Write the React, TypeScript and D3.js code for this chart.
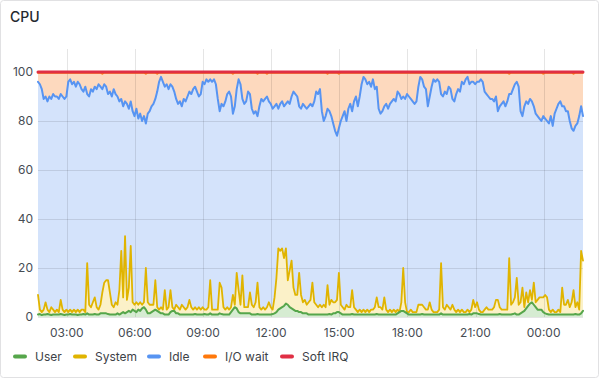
import React, { useEffect } from "react";
import * as d3 from "d3";

const seriesNames = ["User", "System", "Idle", "I/O wait", "Soft IRQ"];
const seriesColors = ["#56A64B", "#E0B400", "#5794F2", "#FF780A", "#E02F44"];
const fillColors = ["#d6ecd2", "#fbf1c8", "#d4e3fb", "#fdd9be"];
const yTicks = [0, 20, 40, 60, 80, 100];
const startTime = "2024-01-01T01:44:00Z";
const endTime = "2024-01-02T01:44:00Z";
const stepMinutes = 5;

const idle = [
  96, 95, 93, 89, 90, 88, 90, 89, 91, 90,
  90, 89, 91, 90, 89, 90, 96, 97, 95, 96,
  94, 96, 95, 93, 92, 94, 91, 90, 93, 92,
  94, 93, 95, 94, 93, 95, 94, 91, 92, 90,
  93, 91, 90, 88, 89, 86, 88, 87, 85, 88,
  84, 82, 85, 81, 83, 80, 82, 79, 83, 84,
  86, 87, 89, 92, 96, 98, 96, 94, 95, 93,
  95, 94, 92, 89, 87, 88, 86, 89, 88, 90,
  92, 91, 93, 94, 92, 90, 91, 96, 95, 97,
  96, 97, 96, 97, 95, 89, 84, 87, 86, 88,
  91, 92, 90, 83, 86, 93, 97, 95, 89, 87,
  88, 92, 91, 85, 83, 84, 82, 86, 89, 88,
  89, 90, 88, 87, 85, 86, 87, 85, 87, 88,
  86, 87, 88, 87, 90, 92, 91, 90, 86, 85,
  87, 86, 85, 86, 87, 86, 88, 92, 91, 93,
  84, 80, 82, 85, 84, 82, 79, 76, 74, 77,
  80, 82, 84, 80, 85, 87, 84, 88, 90, 86,
  90, 95, 98, 97, 95, 96, 94, 97, 93, 94,
  85, 83, 84, 86, 87, 85, 87, 88, 89, 88,
  92, 91, 89, 90, 89, 91, 90, 89, 88, 87,
  88, 94, 98, 97, 94, 93, 86, 90, 94, 97,
  96, 97, 96, 91, 90, 92, 91, 94, 93, 89,
  88, 91, 93, 92, 96, 95, 97, 98, 95, 96,
  96, 95, 96, 96, 97, 96, 92, 91, 90, 89,
  89, 88, 90, 84, 86, 87, 88, 86, 88, 91,
  91, 93, 95, 96, 94, 84, 82, 86, 88, 87,
  89, 88, 86, 83, 82, 81, 80, 82, 81, 80,
  79, 82, 78, 83, 85, 87, 88, 86, 86, 84,
  84, 80, 77, 76, 78, 79, 82, 86, 82,
];

const system = [
  9, 3, 2, 3, 6, 3, 2, 4, 3, 2,
  3, 2, 7, 3, 2, 3, 2, 3, 2, 3,
  2, 3, 2, 3, 3, 2, 22, 5, 4, 6,
  8, 4, 3, 5, 10, 14, 15, 15, 10, 5,
  4, 6, 5, 11, 27, 8, 33, 7, 12, 29,
  6, 5, 6, 5, 6, 5, 6, 20, 6, 5,
  5, 5, 15, 4, 3, 4, 3, 11, 3, 4,
  11, 4, 3, 5, 4, 3, 5, 4, 3, 4,
  7, 4, 3, 4, 3, 4, 3, 4, 3, 3,
  4, 15, 3, 3, 3, 3, 14, 12, 4, 3,
  4, 3, 4, 9, 5, 18, 11, 5, 17, 4,
  4, 4, 10, 5, 4, 6, 14, 4, 3, 4,
  3, 4, 6, 4, 3, 8, 16, 28, 27, 28,
  24, 28, 15, 19, 23, 12, 9, 9, 18, 9,
  6, 7, 5, 6, 7, 14, 6, 5, 4, 5,
  4, 5, 4, 13, 5, 7, 6, 6, 7, 18,
  5, 4, 3, 5, 4, 4, 11, 4, 3, 2,
  3, 2, 3, 2, 3, 2, 3, 3, 4, 8,
  4, 4, 3, 8, 3, 2, 3, 2, 3, 2,
  3, 2, 6, 20, 6, 2, 2, 3, 2, 2,
  2, 5, 5, 5, 4, 3, 3, 6, 3, 2,
  2, 2, 3, 22, 4, 3, 5, 4, 3, 5,
  3, 2, 3, 2, 3, 2, 2, 3, 2, 3,
  7, 4, 6, 3, 2, 2, 3, 4, 3, 3,
  3, 4, 7, 7, 4, 3, 3, 3, 3, 24,
  5, 6, 8, 16, 5, 6, 12, 4, 10, 6,
  11, 7, 14, 6, 7, 8, 8, 8, 9, 8,
  3, 2, 3, 2, 2, 3, 2, 12, 5, 5,
  7, 4, 6, 11, 4, 6, 3, 27, 23,
];

const user = [
  1, 1.2, 0.8, 1, 1, 1.2, 1, 0.8, 1, 1,
  1, 1, 1.2, 1, 0.8, 1, 1, 1.2, 1, 1,
  1, 0.8, 1, 1, 1.2, 1, 1.5, 1, 1, 1,
  1.2, 1, 1, 1.5, 1.5, 1.5, 1.5, 1.2, 1, 1,
  1, 1, 1.5, 1, 1.5, 2, 1.5, 2, 2.5, 2,
  3, 2.5, 2, 3, 2.5, 3.5, 4, 3, 1.5, 1.5,
  2, 2.5, 3, 2.5, 2, 1.5, 1.5, 1, 1, 1,
  2, 2.5, 2.5, 1.5, 1.5, 1, 1, 1, 1, 1,
  1, 1, 1, 1.2, 1, 1, 1, 1, 1.2, 1,
  1, 1.5, 1, 1, 1, 1, 1.5, 1.2, 1, 1,
  1, 1, 2, 3, 4, 3.5, 2, 1.5, 1.5, 1.5,
  1.5, 1.5, 1.5, 1, 1, 1, 1.2, 1, 1, 1,
  1, 1, 1, 1, 1.2, 1.5, 2, 3, 3.5, 4,
  4.5, 5.5, 5, 4, 3.5, 3, 2.5, 2.5, 2, 2,
  1.5, 1.5, 1.5, 1, 1, 1, 1, 1, 1, 1,
  1, 1, 1, 1, 1.2, 1, 1.5, 1.5, 2, 2,
  1.5, 1, 1, 1, 1, 1, 1.2, 1, 1, 1,
  1, 1, 1, 1, 1, 1, 1, 1, 1, 1.2,
  1, 1, 1, 1, 1, 1, 1, 1, 1, 1,
  1.5, 2, 2.5, 2.5, 2, 1.5, 1, 1, 1, 1,
  1, 1, 1, 1.2, 1, 1, 1, 1, 1, 1,
  1, 1, 1, 1.5, 1, 1, 1, 1, 1, 1,
  1, 1, 1, 1, 1, 1, 1, 1, 1.2, 1,
  1.5, 1.5, 1.5, 1.2, 1, 1, 1, 1, 1, 1,
  1, 1, 1, 1, 1.2, 1, 1, 1, 1, 1,
  1, 1.2, 1.5, 1, 1, 1.5, 2, 2.5, 3.5, 4.5,
  5.5, 6, 5, 4, 3, 3, 3, 2, 1.5, 1.2,
  1, 1, 1, 1, 1, 1, 1, 1, 1, 1,
  1, 1, 1, 1, 1.2, 1, 1, 1.5, 2.5,
];

const iowait = [
  99.7, 99.7, 99.7, 99.7, 99.7, 99.7, 99.7, 99.7, 99.7, 99.7,
  99.7, 99.7, 99.7, 99.7, 99.7, 99.7, 99.7, 99.7, 99.7, 99.7,
  99.7, 99.7, 99.7, 99.7, 99.7, 99.7, 99.7, 99.7, 99.7, 99.7,
  99.7, 99.7, 99.7, 99.7, 99.3, 99.7, 99.7, 99.7, 99.7, 99.7,
  99.7, 99.7, 99.7, 99.7, 99.7, 99.7, 99.7, 99.7, 99.7, 99.7,
  99.7, 99.7, 99.7, 99.7, 99.7, 99.7, 99.7, 99.3, 99.7, 99.7,
  99.7, 99.7, 99.7, 99.3, 99.7, 99.7, 99.7, 99.7, 99.7, 99.7,
  99.7, 99.7, 99.7, 99.7, 99.7, 99.7, 99.7, 99.7, 99.7, 99.7,
  99.7, 99.7, 99.7, 99.7, 99.7, 99.7, 99.7, 99.7, 99.7, 99.7,
  99.7, 99.7, 99.7, 99.7, 99.7, 99.7, 99.7, 99.7, 99.7, 99.7,
  99.7, 99.7, 99.7, 99.3, 99.7, 99.7, 99.7, 99.7, 99.7, 99.7,
  99.7, 99.7, 99.7, 99.7, 99.7, 99.7, 99.3, 99.7, 99.7, 99.7,
  99.7, 99.3, 99.7, 99.7, 99.7, 99.7, 99.7, 99.7, 99.7, 99.7,
  99.7, 99.7, 99.7, 99.7, 99.7, 99.7, 99.7, 99.7, 99.7, 99.7,
  99.7, 99.7, 99.7, 99.7, 99.7, 99.7, 99.7, 99.7, 99.7, 99.7,
  99.7, 99.7, 99.7, 99.3, 99.7, 99.7, 99.7, 99.7, 99.7, 99.3,
  99.7, 99.7, 99.7, 99.7, 99.7, 99.7, 99.7, 99.7, 99.7, 99.7,
  99.7, 99.7, 99.7, 99.7, 99.7, 99.7, 99.7, 99.7, 99.7, 99.7,
  99.7, 99.7, 99.7, 99.7, 99.7, 99.7, 99.7, 99.7, 99.7, 99.7,
  99.7, 99.7, 99.7, 99.7, 99.7, 99.7, 99.7, 99.7, 99.7, 99.7,
  99.7, 99.7, 99.7, 99.7, 99.7, 99.7, 99.7, 99.7, 99.7, 99.7,
  99.7, 99.7, 99.7, 99.7, 99.7, 99.7, 99.7, 99.7, 99.7, 99.7,
  99.7, 99.7, 99.7, 99.7, 99.7, 99.7, 99.7, 99.7, 99.7, 99.7,
  99.7, 99.7, 99.7, 99.7, 99.7, 99.7, 99.7, 99.7, 99.7, 99.7,
  99.7, 99.7, 99.7, 99.7, 99.7, 99.7, 99.7, 99.7, 99.7, 99.3,
  99.7, 99.7, 99.7, 99.7, 99.7, 99.7, 99.7, 99.7, 99.7, 99.7,
  99.7, 99.7, 99.7, 99.7, 99.7, 99.7, 99.7, 99.3, 99.7, 99.7,
  99.7, 99.7, 99.7, 99.7, 99.7, 99.7, 99.7, 99.7, 99.7, 99.7,
  99.7, 99.7, 99.7, 99.3, 99.7, 99.7, 99.7, 99.7, 99.7,
];

const softirq = [
  100, 100, 100, 100, 100, 100, 100, 100, 100, 100,
  100, 100, 100, 100, 100, 100, 100, 100, 100, 100,
  100, 100, 100, 100, 100, 100, 100, 100, 100, 100,
  100, 100, 100, 100, 100, 100, 100, 100, 100, 100,
  100, 100, 100, 100, 100, 100, 100, 100, 100, 100,
  100, 100, 100, 100, 100, 100, 100, 100, 100, 100,
  100, 100, 100, 100, 100, 100, 100, 100, 100, 100,
  100, 100, 100, 100, 100, 100, 100, 100, 100, 100,
  100, 100, 100, 100, 100, 100, 100, 100, 100, 100,
  100, 100, 100, 100, 100, 100, 100, 100, 100, 100,
  100, 100, 100, 100, 100, 100, 100, 100, 100, 100,
  100, 100, 100, 100, 100, 100, 100, 100, 100, 100,
  100, 100, 100, 100, 100, 100, 100, 100, 100, 100,
  100, 100, 100, 100, 100, 100, 100, 100, 100, 100,
  100, 100, 100, 100, 100, 100, 100, 100, 100, 100,
  100, 100, 100, 100, 100, 100, 100, 100, 100, 100,
  100, 100, 100, 100, 100, 100, 100, 100, 100, 100,
  100, 100, 100, 100, 100, 100, 100, 100, 100, 100,
  100, 100, 100, 100, 100, 100, 100, 100, 100, 100,
  100, 100, 100, 100, 100, 100, 100, 100, 100, 100,
  100, 100, 100, 100, 100, 100, 100, 100, 100, 100,
  100, 100, 100, 100, 100, 100, 100, 100, 100, 100,
  100, 100, 100, 100, 100, 100, 100, 100, 100, 100,
  100, 100, 100, 100, 100, 100, 100, 100, 100, 100,
  100, 100, 100, 100, 100, 100, 100, 100, 100, 100,
  100, 100, 100, 100, 100, 100, 100, 100, 100, 100,
  100, 100, 100, 100, 100, 100, 100, 100, 100, 100,
  100, 100, 100, 100, 100, 100, 100, 100, 100, 100,
  100, 100, 100, 100, 100, 100, 100, 100, 100,
];

const W = 600;
const H = 380;
const FONT = "Inter, 'Noto Sans', sans-serif";

export default function App() {
  useEffect(() => {
    document.body.style.margin = "0";
  }, []);

  const t0 = new Date(startTime).getTime();
  const times = idle.map((_, i) => new Date(t0 + i * stepMinutes * 60000));

  const left = 38;
  const right = 583;
  const top = 49;
  const bottom = 317;

  const x = d3
    .scaleUtc()
    .domain([new Date(startTime), new Date(endTime)])
    .range([left, right]);
  const y = d3.scaleLinear().domain([0, 100]).range([bottom, 72]);

  const xTicks = x.ticks(d3.utcHour.every(3) as any);
  const fmt = d3.utcFormat("%H:%M");

  const area = (vals: number[]) =>
    d3
      .area<number>()
      .x((_, i) => x(times[i]))
      .y0(y(0))
      .y1((d) => y(d))(vals) || "";
  const line = (vals: number[]) =>
    d3
      .line<number>()
      .x((_, i) => x(times[i]))
      .y((d) => y(d))(vals) || "";

  const legendSwatchX = [13, 73, 147, 203, 280];

  return (
    <svg
      width={W}
      height={H}
      style={{ display: "block", position: "absolute", left: 0, top: 0 }}
      fontFamily={FONT}
    >
      <rect x={0} y={0} width={W} height={H} fill="#ffffff" />
      <rect
        x={0.5}
        y={0.5}
        width={598}
        height={377}
        rx={3}
        fill="#ffffff"
        stroke="#e1e1e3"
      />
      <text x={10} y={22} fontSize={14} fill="#24292e" fontWeight={500}>
        CPU
      </text>

      {/* fills */}
      <path d={area(iowait)} fill={fillColors[3]} />
      <path d={area(idle)} fill={fillColors[2]} />
      <path d={area(system)} fill={fillColors[1]} />
      <path d={area(user)} fill={fillColors[0]} />

      {/* grid */}
      <g stroke="rgba(0,0,0,0.1)" strokeWidth={1}>
        {yTicks.map((t) => (
          <line
            key={"h" + t}
            x1={left}
            x2={right}
            y1={Math.round(y(t)) + 0.5}
            y2={Math.round(y(t)) + 0.5}
          />
        ))}
        {xTicks.map((t, i) => (
          <line
            key={"v" + i}
            x1={Math.round(x(t)) + 0.5}
            x2={Math.round(x(t)) + 0.5}
            y1={top}
            y2={bottom}
          />
        ))}
      </g>

      {/* lines */}
      <g fill="none" strokeLinejoin="round" strokeLinecap="round">
        <path d={line(idle)} stroke={seriesColors[2]} strokeWidth={2} />
        <path d={line(system)} stroke={seriesColors[1]} strokeWidth={1.8} />
        <path d={line(user)} stroke={seriesColors[0]} strokeWidth={2} />
        <path d={line(iowait)} stroke={seriesColors[3]} strokeWidth={2} />
        <path d={line(softirq)} stroke={seriesColors[4]} strokeWidth={3} />
      </g>

      {/* y axis labels */}
      <g fontSize={12} fill="#464c54" textAnchor="end">
        {yTicks.map((t) => (
          <text key={"yl" + t} x={33} y={y(t)} dy="0.35em">
            {t}
          </text>
        ))}
      </g>

      {/* x axis labels */}
      <g fontSize={12} fill="#464c54" textAnchor="middle">
        {xTicks.map((t, i) => (
          <text key={"xl" + i} x={x(t)} y={336.5}>
            {fmt(t)}
          </text>
        ))}
      </g>

      {/* legend */}
      <g fontSize={12} fill="#3d4247">
        {seriesNames.map((name, i) => (
          <g key={name}>
            <line
              x1={legendSwatchX[i] + 2}
              x2={legendSwatchX[i] + 12}
              y1={356.5}
              y2={356.5}
              stroke={seriesColors[i]}
              strokeWidth={4}
              strokeLinecap="round"
            />
            <text x={legendSwatchX[i] + 22} y={356.5} dy="0.35em">
              {name}
            </text>
          </g>
        ))}
      </g>
    </svg>
  );
}
